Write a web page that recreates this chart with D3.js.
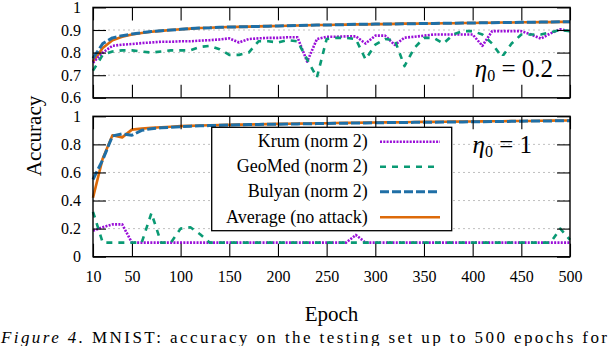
<!DOCTYPE html>
<meta charset="utf-8">
<html>
<head>
    <title>MNIST accuracy</title>
    <script type="text/javascript" src="https://cdn.jsdelivr.net/npm/d3@7/dist/d3.min.js"></script>
    <style type="text/css">
    	html, body {
    		padding: 0px;
    		margin: 0px;
    		background: #fff;
    	}
        svg text {
            font-family: "Liberation Serif", "Times New Roman", Tinos, "DejaVu Serif", "Noto Serif", serif !important;
        }
    </style>
</head>
<body>
	<svg id="svg" width="612" height="346"></svg>
	<script type="text/javascript">
		// epochs (x)
		var epochs = [10, 20, 30, 40, 50, 60, 70, 80, 90, 100,
		  110, 120, 130, 140, 150, 160, 170, 180, 190, 200,
		  210, 220, 230, 240, 250, 260, 270, 280, 290, 300,
		  310, 320, 330, 340, 350, 360, 370, 380, 390, 400,
		  410, 420, 430, 440, 450, 460, 470, 480, 490, 500]
		var xTicks = [10, 50, 100, 150, 200, 250, 300, 350, 400, 450, 500]
		var topTicks = [0.6, 0.7, 0.8, 0.9, 1]
		var botTicks = [0, 0.2, 0.4, 0.6, 0.8, 1]

		// eta0 = 0.2
		var krumTop = [0.755, 0.80, 0.83, 0.835, 0.838, 0.842, 0.845, 0.848, 0.848, 0.85,
		  0.85, 0.853, 0.855, 0.858, 0.863, 0.845, 0.86, 0.863, 0.865, 0.865,
		  0.868, 0.868, 0.76, 0.86, 0.87, 0.87, 0.872, 0.872, 0.84, 0.875,
		  0.875, 0.834, 0.866, 0.87, 0.875, 0.88, 0.88, 0.88, 0.88, 0.88,
		  0.83, 0.895, 0.895, 0.895, 0.895, 0.88, 0.862, 0.885, 0.903, 0.895]
		var geomedTop = [0.72, 0.79, 0.805, 0.81, 0.81, 0.805, 0.80, 0.805, 0.81, 0.81,
		  0.81, 0.825, 0.83, 0.815, 0.79, 0.79, 0.80, 0.85, 0.85, 0.845,
		  0.855, 0.85, 0.77, 0.69, 0.86, 0.865, 0.865, 0.86, 0.77, 0.835,
		  0.86, 0.855, 0.74, 0.82, 0.865, 0.865, 0.84, 0.88, 0.895, 0.895,
		  0.88, 0.84, 0.78, 0.84, 0.88, 0.88, 0.88, 0.89, 0.90, 0.895]
		var bulyanTop = [0.775, 0.84, 0.865, 0.875, 0.882, 0.888, 0.893, 0.897, 0.9, 0.903,
		  0.906, 0.909, 0.91, 0.912, 0.913, 0.914, 0.915, 0.916, 0.917, 0.918,
		  0.919, 0.92, 0.921, 0.922, 0.922, 0.923, 0.924, 0.925, 0.925, 0.926,
		  0.926, 0.927, 0.928, 0.928, 0.929, 0.929, 0.93, 0.93, 0.931, 0.931,
		  0.932, 0.932, 0.933, 0.933, 0.934, 0.934, 0.935, 0.935, 0.936, 0.936]
		var averageTop = [0.76, 0.82, 0.855, 0.87, 0.88, 0.887, 0.892, 0.896, 0.9, 0.903,
		  0.906, 0.909, 0.91, 0.912, 0.913, 0.914, 0.915, 0.916, 0.917, 0.918,
		  0.919, 0.92, 0.921, 0.922, 0.922, 0.923, 0.924, 0.925, 0.925, 0.926,
		  0.926, 0.927, 0.928, 0.928, 0.929, 0.929, 0.93, 0.93, 0.931, 0.931,
		  0.932, 0.932, 0.933, 0.933, 0.934, 0.934, 0.935, 0.935, 0.936, 0.936]

		// eta0 = 1
		var krumBot = [0.185, 0.21, 0.23, 0.23, 0.1, 0.1, 0.1, 0.1, 0.1, 0.1,
		  0.1, 0.1, 0.1, 0.1, 0.1, 0.1, 0.1, 0.1, 0.1, 0.1,
		  0.1, 0.1, 0.1, 0.1, 0.1, 0.1, 0.1, 0.155, 0.1, 0.1,
		  0.1, 0.1, 0.1, 0.1, 0.1, 0.1, 0.1, 0.1, 0.1, 0.1,
		  0.1, 0.1, 0.1, 0.1, 0.1, 0.1, 0.1, 0.1, 0.1, 0.1]
		var geomedBot = [0.32, 0.1, 0.1, 0.1, 0.1, 0.1, 0.31, 0.1, 0.1, 0.2,
		  0.21, 0.16, 0.1, 0.1, 0.1, 0.1, 0.1, 0.1, 0.1, 0.1,
		  0.1, 0.1, 0.1, 0.1, 0.1, 0.1, 0.1, 0.1, 0.1, 0.1,
		  0.1, 0.1, 0.1, 0.1, 0.1, 0.1, 0.1, 0.1, 0.1, 0.1,
		  0.1, 0.1, 0.1, 0.1, 0.1, 0.1, 0.1, 0.1, 0.2, 0.12]
		var bulyanBot = [0.55, 0.69, 0.86, 0.875, 0.865, 0.9, 0.912, 0.918, 0.922, 0.926,
		  0.93, 0.932, 0.934, 0.936, 0.938, 0.94, 0.941, 0.942, 0.943, 0.944,
		  0.945, 0.946, 0.947, 0.948, 0.949, 0.95, 0.951, 0.952, 0.953, 0.954,
		  0.955, 0.955, 0.956, 0.957, 0.957, 0.958, 0.959, 0.96, 0.96, 0.961,
		  0.962, 0.963, 0.963, 0.964, 0.965, 0.966, 0.966, 0.967, 0.968, 0.968]
		var averageBot = [0.42, 0.70, 0.865, 0.85, 0.905, 0.912, 0.918, 0.922, 0.926, 0.93,
		  0.932, 0.934, 0.936, 0.938, 0.94, 0.941, 0.942, 0.943, 0.944, 0.946,
		  0.947, 0.948, 0.949, 0.95, 0.951, 0.952, 0.953, 0.954, 0.955, 0.956,
		  0.957, 0.957, 0.958, 0.959, 0.96, 0.96, 0.961, 0.962, 0.963, 0.963,
		  0.964, 0.965, 0.965, 0.966, 0.967, 0.967, 0.968, 0.969, 0.97, 0.97]

		var seriesNames = ["Krum (norm 2)", "GeoMed (norm 2)", "Bulyan (norm 2)", "Average (no attack)"]

		// line styles
		var styles = [
		  { color: "#9a0fd8", width: 2.6, dash: "2,1.3" },
		  { color: "#0a9a74", width: 2.6, dash: "6,6" },
		  { color: "#1f6fa6", width: 3, dash: "9,3" },
		  { color: "#dd6a0a", width: 2.6, dash: null }
		]
		var serif = "'Liberation Serif', 'Times New Roman', Tinos, 'DejaVu Serif', serif"

		var svg = d3.select('svg')
		var x = d3.scaleLinear().domain([10, 500]).range([93, 570])
		var yTop = d3.scaleLinear().domain([0.6, 1]).range([97.8, 7.4])
		var yBot = d3.scaleLinear().domain([0, 1]).range([256.7, 116.3])

		function drawPanel(y, ticks, series, showX) {
		  var g = svg.append("g")
		  var y0 = y.range()[0], y1 = y.range()[1]
		  // grid
		  g.selectAll(".grid").data(ticks.slice(1, -1)).enter().append("line")
		    .attr("x1", x.range()[0]).attr("x2", x.range()[1])
		    .attr("y1", function (d) { return y(d) }).attr("y2", function (d) { return y(d) })
		    .attr("stroke", "#b0b0b0").attr("stroke-width", 0.8)
		    .attr("stroke-dasharray", "2,3")
		  // lines: average, bulyan, krum, geomed
		  var order = [3, 2, 0, 1]
		  order.forEach(function (k) {
		    var line = d3.line()
		      .x(function (d, i) { return x(epochs[i]) })
		      .y(function (d) { return y(d) })
		    var p = g.append("path").datum(series[k])
		      .attr("d", line)
		      .attr("fill", "none")
		      .attr("stroke", styles[k].color)
		      .attr("stroke-width", styles[k].width)
		      .attr("stroke-linejoin", "round")
		    if (styles[k].dash) p.attr("stroke-dasharray", styles[k].dash)
		  })
		  // axes with inward ticks
		  g.append("g").attr("transform", "translate(0," + y0 + ")")
		    .call(d3.axisBottom(x).tickValues(xTicks).tickSize(-13).tickPadding(14)
		      .tickFormat(showX ? d3.format("d") : function () { return "" }))
		  g.append("g").attr("transform", "translate(0," + y1 + ")")
		    .call(d3.axisTop(x).tickValues(xTicks).tickSize(-13).tickFormat(""))
		  g.append("g").attr("transform", "translate(" + x.range()[0] + ",0)")
		    .call(d3.axisLeft(y).tickValues(ticks).tickSize(-13).tickPadding(12)
		      .tickFormat(function (d) { return d3.format("")(+d.toFixed(1)) }))
		  g.append("g").attr("transform", "translate(" + x.range()[1] + ",0)")
		    .call(d3.axisRight(y).tickValues(ticks).tickSize(-13).tickFormat(""))
		  g.selectAll(".domain").remove()
		  g.selectAll("g").attr("font-family", serif)
		  g.selectAll(".tick line").attr("stroke", "#000").attr("stroke-width", 1.1)
		  g.selectAll(".tick text").attr("font-size", "16px").attr("fill", "#000")
		  // frame
		  g.append("rect")
		    .attr("x", x.range()[0]).attr("y", y1)
		    .attr("width", x.range()[1] - x.range()[0]).attr("height", y0 - y1)
		    .attr("fill", "none").attr("stroke", "#000").attr("stroke-width", 1.4)
		  return g
		}

		drawPanel(yTop, topTicks, [krumTop, geomedTop, bulyanTop, averageTop], false)
		drawPanel(yBot, botTicks, [krumBot, geomedBot, bulyanBot, averageBot], true)

		// eta labels
		function eta(xp, yp, val) {
		  var t = svg.append("text").attr("x", xp).attr("y", yp)
		    .attr("font-size", "25px").attr("text-anchor", "end")
		  t.append("tspan").attr("font-style", "italic").text("η")
		  t.append("tspan").attr("font-size", "16px").attr("dy", 4).text("0")
		  t.append("tspan").attr("dy", -4).text(" = " + val)
		}
		svg.append("rect")
		  .attr("x", 458).attr("y", 56).attr("width", 98).attr("height", 27).attr("fill", "#fff")
		eta(553, 76.5, "0.2")
		eta(532, 152.5, "1")

		// legend
		var legend = svg.append("g")
		legend.append("rect").attr("x", 211.7).attr("y", 127.3)
		  .attr("width", 240).attr("height", 103.4)
		  .attr("fill", "#fff").attr("stroke", "#000").attr("stroke-width", 1.3)
		var rowY = [141.7, 166.7, 191.7, 217.3]
		seriesNames.forEach(function (name, k) {
		  legend.append("text").attr("x", 367.7).attr("y", rowY[k] + 5.5)
		    .attr("text-anchor", "end").attr("font-size", "18px").text(name)
		  var l = legend.append("line").attr("x1", 380).attr("x2", 440)
		    .attr("y1", rowY[k]).attr("y2", rowY[k])
		    .attr("stroke", styles[k].color).attr("stroke-width", styles[k].width)
		  if (styles[k].dash) l.attr("stroke-dasharray", styles[k].dash)
		})

		// axis titles
		svg.append("text").attr("x", 331.5).attr("y", 320.5)
		  .attr("text-anchor", "middle").attr("font-size", "21px").text("Epoch")
		svg.append("text").attr("transform", "translate(41,136) rotate(-90)")
		  .attr("text-anchor", "middle").attr("font-size", "21px").text("Accuracy")

		// caption
		var cap = svg.append("text").attr("x", 1).attr("y", 342.5).attr("font-size", "17px")
		  .attr("textLength", 606).attr("lengthAdjust", "spacing")
		cap.append("tspan").attr("font-style", "italic").text("Figure 4.")
		cap.append("tspan").text(" MNIST: accuracy on the testing set up to 500 epochs for")
	</script>
</body>
</html>
